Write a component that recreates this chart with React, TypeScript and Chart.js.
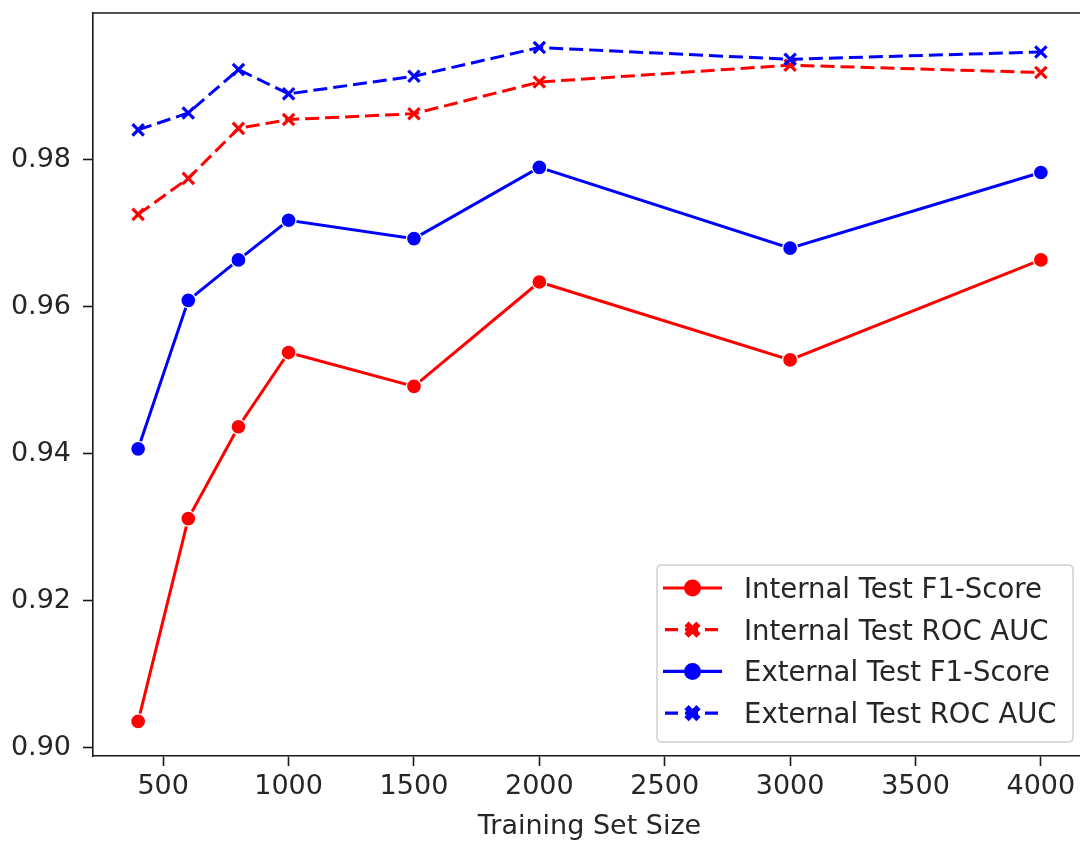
import React, { useEffect, useRef } from "react";
import { Chart, registerables } from "chart.js";

Chart.register(...registerables);

const trainingSizes = [400, 600, 800, 1000, 1500, 2000, 3000, 4000];
const internalF1 = [0.9036, 0.9312, 0.9437, 0.9538, 0.9492, 0.9634, 0.9528, 0.9664];
const internalRoc = [0.9726, 0.9775, 0.9843, 0.9855, 0.9863, 0.9906, 0.9929, 0.9919];
const externalF1 = [0.9407, 0.9609, 0.9664, 0.9718, 0.9693, 0.979, 0.968, 0.9783];
const externalRoc = [0.9841, 0.9864, 0.9923, 0.989, 0.9914, 0.9953, 0.9937, 0.9947];
const seriesLabels = [
  "Internal Test F1-Score",
  "Internal Test ROC AUC",
  "External Test F1-Score",
  "External Test ROC AUC",
];
const xTickValues = [500, 1000, 1500, 2000, 2500, 3000, 3500, 4000];
const yTickValues = [0.9, 0.92, 0.94, 0.96, 0.98];
const xAxisTitle = "Training Set Size";

const RED = "#ff0000";
const BLUE = "#0000ff";
const TEXT = "#262626";
const SPINE = "#1a1a1a";
const FONT_FAMILY = "'DejaVu Sans', sans-serif";
const FONT_SIZE = 27;

type SeriesDef = { label: string; values: number[]; color: string; dashed: boolean };
const seriesDefs: SeriesDef[] = [
  { label: seriesLabels[0], values: internalF1, color: RED, dashed: false },
  { label: seriesLabels[1], values: internalRoc, color: RED, dashed: true },
  { label: seriesLabels[2], values: externalF1, color: BLUE, dashed: false },
  { label: seriesLabels[3], values: externalRoc, color: BLUE, dashed: true },
];

const legendPlugin = {
  id: "mplLegend",
  afterDraw(chart: any) {
    const ctx: CanvasRenderingContext2D = chart.ctx;
    const area = chart.chartArea;
    ctx.save();
    // top spine
    ctx.strokeStyle = SPINE;
    ctx.lineWidth = 1.6;
    ctx.beginPath();
    ctx.moveTo(area.left, area.top);
    ctx.lineTo(area.right, area.top);
    ctx.stroke();

    ctx.font = `${FONT_SIZE}px ${FONT_FAMILY}`;
    const boxRight = area.right - 13;
    const boxBottom = area.bottom - 14;
    const boxH = 177;
    const boxW = 416;
    const boxTop = boxBottom - boxH;
    const boxLeft = boxRight - boxW;
    const r = 5;
    ctx.beginPath();
    ctx.moveTo(boxLeft + r, boxTop);
    ctx.lineTo(boxRight - r, boxTop);
    ctx.quadraticCurveTo(boxRight, boxTop, boxRight, boxTop + r);
    ctx.lineTo(boxRight, boxBottom - r);
    ctx.quadraticCurveTo(boxRight, boxBottom, boxRight - r, boxBottom);
    ctx.lineTo(boxLeft + r, boxBottom);
    ctx.quadraticCurveTo(boxLeft, boxBottom, boxLeft, boxBottom - r);
    ctx.lineTo(boxLeft, boxTop + r);
    ctx.quadraticCurveTo(boxLeft, boxTop, boxLeft + r, boxTop);
    ctx.closePath();
    ctx.fillStyle = "rgba(255,255,255,0.8)";
    ctx.fill();
    ctx.strokeStyle = "#d0d0d0";
    ctx.lineWidth = 1.5;
    ctx.stroke();

    const lineX0 = boxLeft + 6;
    const lineX1 = boxLeft + 65;
    const markX = (lineX0 + lineX1) / 2;
    const textX = boxLeft + 87;
    seriesDefs.forEach((s, i) => {
      const cy = boxTop + 23 + i * 41.7;
      ctx.strokeStyle = s.color;
      ctx.fillStyle = s.color;
      ctx.lineWidth = 3.2;
      ctx.lineCap = "butt";
      if (s.dashed) {
        ctx.setLineDash([13, 7]);
        ctx.beginPath();
        ctx.moveTo(lineX0 + 2, cy);
        ctx.lineTo(lineX1 - 2, cy);
        ctx.stroke();
        ctx.setLineDash([]);
        ctx.lineWidth = 6;
        const d = 6;
        ctx.beginPath();
        ctx.moveTo(markX - d, cy - d);
        ctx.lineTo(markX + d, cy + d);
        ctx.moveTo(markX - d, cy + d);
        ctx.lineTo(markX + d, cy - d);
        ctx.stroke();
      } else {
        ctx.setLineDash([]);
        ctx.beginPath();
        ctx.moveTo(lineX0, cy);
        ctx.lineTo(lineX1, cy);
        ctx.stroke();
        ctx.beginPath();
        ctx.arc(markX, cy, 8.5, 0, Math.PI * 2);
        ctx.fill();
      }
      ctx.fillStyle = TEXT;
      ctx.textAlign = "left";
      ctx.textBaseline = "alphabetic";
      ctx.font = `27.5px ${FONT_FAMILY}`;
      ctx.fillText(s.label, textX, cy + 10);
    });
    ctx.restore();
  },
};

const zeroPad = (s: any) => {
  s.paddingTop = 0;
  s.paddingBottom = 0;
  s.paddingLeft = 0;
  s.paddingRight = 0;
};

export default function App() {
  const canvasRef = useRef<HTMLCanvasElement | null>(null);

  useEffect(() => {
    const canvas = canvasRef.current;
    if (!canvas) return;
    const font = { family: FONT_FAMILY, size: FONT_SIZE, lineHeight: 1.2 };
    const datasets = seriesDefs.map((s, i) => ({
      label: s.label,
      data: trainingSizes.map((x, j) => ({ x, y: s.values[j] })),
      borderColor: s.color,
      backgroundColor: s.color,
      borderWidth: 3,
      borderDash: s.dashed ? [14, 6] : [],
      pointStyle: s.dashed ? "crossRot" : "circle",
      pointRadius: s.dashed ? 8 : 7.5,
      pointBackgroundColor: s.color,
      pointBorderColor: s.dashed ? s.color : "#ffffff",
      pointBorderWidth: s.dashed ? 3.2 : 1.3,
      tension: 0,
      fill: false,
      order: 3 - i,
    }));

    const chart = new Chart(canvas, {
      type: "line",
      data: { datasets },
      options: {
        animation: false,
        responsive: false,
        devicePixelRatio: 1,
        layout: { padding: { top: 13, right: 14, left: 0, bottom: 0 } },
        plugins: {
          legend: { display: false },
          tooltip: { enabled: false },
        },
        scales: {
          x: {
            type: "linear",
            min: 220,
            max: 4180,
            afterBuildTicks: (s: any) => {
              s.ticks = xTickValues.map((v) => ({ value: v }));
            },
            afterFit: (s: any) => {
              s.height = 87;
              zeroPad(s);
            },
            ticks: {
              font,
              color: TEXT,
              padding: 5,
              maxRotation: 0,
              autoSkip: false,
              callback: (v: any) => String(v),
            },
            grid: {
              drawOnChartArea: false,
              drawTicks: true,
              tickLength: 10,
              tickColor: SPINE,
              tickWidth: 1.6,
            },
            border: { display: true, color: SPINE, width: 1.6 },
            title: {
              display: true,
              text: xAxisTitle,
              font,
              color: TEXT,
              padding: { top: 0, bottom: 0 },
            },
          },
          y: {
            type: "linear",
            min: 0.8989,
            max: 1.0,
            afterBuildTicks: (s: any) => {
              s.ticks = yTickValues.map((v) => ({ value: v }));
            },
            afterFit: (s: any) => {
              s.width = 93;
              zeroPad(s);
            },
            ticks: {
              font,
              color: TEXT,
              padding: 12,
              autoSkip: false,
              callback: (v: any) => Number(v).toFixed(2),
            },
            grid: {
              drawOnChartArea: false,
              drawTicks: true,
              tickLength: 10,
              tickColor: SPINE,
              tickWidth: 1.6,
            },
            border: { display: true, color: SPINE, width: 1.6 },
          },
        },
      } as any,
      plugins: [legendPlugin],
    });
    return () => chart.destroy();
  }, []);

  return (
    <div
      style={{
        position: "fixed",
        left: 0,
        top: 0,
        width: 1080,
        height: 843,
        overflow: "hidden",
        background: "#ffffff",
      }}
    >
      <canvas
        ref={canvasRef}
        width={1100}
        height={843}
        style={{ display: "block", width: 1100, height: 843 }}
      />
    </div>
  );
}
